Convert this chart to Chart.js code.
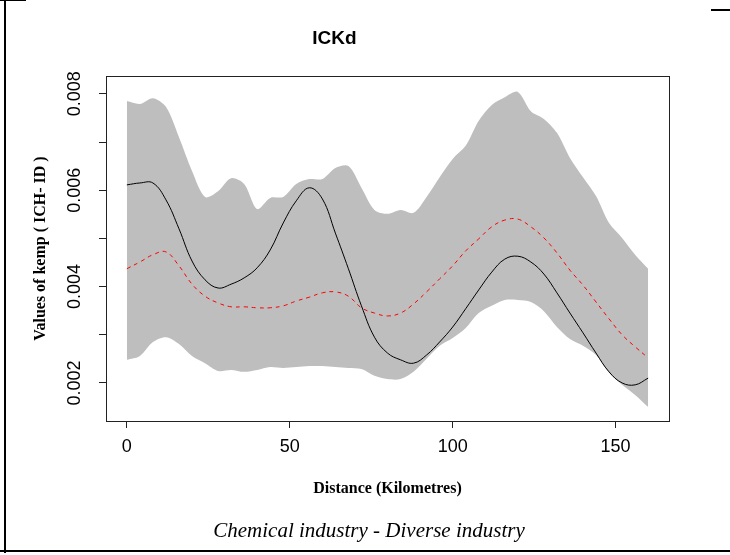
<!DOCTYPE html>
<html>
<head>
<meta charset="utf-8">
<script src="https://cdn.jsdelivr.net/npm/chart.js@4.4.1/dist/chart.umd.min.js"></script>
<style>
  html, body { margin: 0; padding: 0; background: #fff; }
  #wrap { position: relative; width: 730px; height: 555px; overflow: hidden; }
  #kempChart { position: absolute; left: 0; top: 0; }
  .frame { position: absolute; background: #000; }
  #caption {
    position: absolute; left: 0; width: 738px; top: 518px;
    text-align: center; font: italic 21px "Liberation Serif", serif; color: #000;
  }
</style>
</head>
<body>
<div id="wrap">
  <canvas id="kempChart" width="730" height="555"></canvas>
  <div class="frame" style="left:4px; top:0; width:2px; height:553px;"></div>
  <div class="frame" style="left:0; top:0; width:26px; height:1px;"></div>
  <div class="frame" style="left:711px; top:9px; width:19px; height:2px;"></div>
  <div class="frame" style="left:0; top:550px; width:730px; height:2px;"></div>
  <div id="caption">Chemical industry - Diverse industry</div>
</div>
<script>
// distance along the corridor (km)
const distance = [0, 4, 8, 12, 16, 20, 24, 28, 32, 36, 40, 44, 48, 52, 56, 60, 64, 68, 72, 76,
    80, 84, 88, 92, 96, 100, 104, 108, 112, 116, 120, 124, 128, 132, 136, 140, 144, 148, 152,
    156, 160];

// upper and lower envelope
const upperBand = [0.00785, 0.00779, 0.00791, 0.00773, 0.0071, 0.0064, 0.00586, 0.00598, 0.00625,
    0.00613, 0.00561, 0.00584, 0.00586, 0.00613, 0.00623, 0.00623, 0.00646, 0.0065, 0.00605, 0.00559,
    0.00551, 0.00559, 0.00553, 0.00586, 0.00627, 0.00665, 0.00692, 0.00744, 0.00777, 0.00793, 0.00804,
    0.00764, 0.00748, 0.00719, 0.00667, 0.00627, 0.00588, 0.00532, 0.00501, 0.00466, 0.00437];
const lowerBand = [0.00248, 0.00256, 0.00285, 0.00295, 0.00281, 0.00256, 0.00241, 0.00225, 0.00227,
    0.00223, 0.00227, 0.00233, 0.00231, 0.00233, 0.00235, 0.00235, 0.00233, 0.00231, 0.00229, 0.00215,
    0.00208, 0.00208, 0.00223, 0.0025, 0.00277, 0.00293, 0.00314, 0.00345, 0.0036, 0.00372, 0.00372,
    0.00368, 0.00349, 0.00316, 0.00291, 0.00277, 0.00258, 0.00221, 0.00196, 0.00175, 0.0015];

// observed kemp (solid) and expected (red dashed)
const kempObserved = [0.00611, 0.00615, 0.00615, 0.0058, 0.0052, 0.00453, 0.00414, 0.00397, 0.00405,
    0.00418, 0.00439, 0.00476, 0.00532, 0.00578, 0.00605, 0.00582, 0.00511, 0.00437, 0.0036, 0.00295,
    0.00262, 0.00248, 0.00241, 0.00258, 0.00285, 0.00316, 0.00354, 0.00393, 0.0043, 0.00457, 0.00463,
    0.00451, 0.00426, 0.00387, 0.00345, 0.00304, 0.00262, 0.00223, 0.002, 0.00196, 0.0021];
const kempExpected = [0.00437, 0.00451, 0.00466, 0.00472, 0.00443, 0.00405, 0.0038, 0.00366, 0.00358,
    0.00358, 0.00356, 0.00356, 0.0036, 0.0037, 0.00378, 0.00387, 0.00389, 0.0038, 0.00356, 0.00345,
    0.00339, 0.00345, 0.00364, 0.00389, 0.00416, 0.00443, 0.00474, 0.00499, 0.00524, 0.00538, 0.0054,
    0.00524, 0.00501, 0.0047, 0.00434, 0.00403, 0.00368, 0.00333, 0.003, 0.00275, 0.00252];

const xTicks = [0, 50, 100, 150];
const yTicks = [0.002, 0.003, 0.004, 0.005, 0.006, 0.007, 0.008];
const yLabelled = [0.002, 0.004, 0.006, 0.008];

const pts = arr => arr.map((v, i) => ({ x: distance[i], y: v }));

// R style box round the plot region
const boxPlugin = {
    id: 'box',
    afterDatasetsDraw(chart) {
        const a = chart.chartArea, ctx = chart.ctx;
        ctx.save();
        ctx.strokeStyle = '#222';
        ctx.lineWidth = 1;
        ctx.strokeRect(Math.round(a.left) + 0.5, Math.round(a.top) + 0.5,
            Math.round(a.right - a.left), Math.round(a.bottom - a.top));
        ctx.restore();
    }
};

new Chart(document.getElementById('kempChart'), {
    type: 'line',
    data: {
        datasets: [
            { data: pts(upperBand), order: 1, borderWidth: 0, pointRadius: 0, backgroundColor: '#bebebe', fill: '+1', tension: 0.3 },
            { data: pts(lowerBand), order: 1, borderWidth: 0, pointRadius: 0, fill: false, tension: 0.3 },
            { data: pts(kempObserved), order: 0, borderColor: '#000', borderWidth: 1, pointRadius: 0, fill: false, tension: 0.4 },
            { data: pts(kempExpected), order: 0, borderColor: '#ff0000', borderWidth: 1, borderDash: [4, 4], pointRadius: 0, fill: false, tension: 0.4 }
        ]
    },
    options: {
        responsive: false,
        animation: false,
        events: [],
        layout: { padding: { left: 0, right: 61, top: 0, bottom: 0 } },
        plugins: {
            legend: { display: false },
            tooltip: { enabled: false },
            title: {
                display: true,
                text: 'ICKd',
                color: '#000',
                font: { family: 'Liberation Sans', size: 19, weight: 'bold', lineHeight: 1.2 },
                padding: { top: 27, bottom: 26.2 }
            }
        },
        scales: {
            x: {
                type: 'linear',
                min: -6.4,
                max: 166.4,
                afterBuildTicks: s => { s.ticks = xTicks.map(v => ({ value: v })); },
                afterFit: s => { s.height = 134; },
                grid: { drawOnChartArea: false, drawTicks: true, tickLength: 7, color: '#222' },
                border: { display: true, color: '#222' },
                ticks: { color: '#000', padding: 8, maxRotation: 0, font: { family: 'Liberation Sans', size: 18 } },
                title: {
                    display: true,
                    text: 'Distance (Kilometres)',
                    color: '#000',
                    font: { family: 'Liberation Serif', size: 16, weight: 'bold', lineHeight: 1.2 },
                    padding: { top: 0, bottom: 56.4 }
                }
            },
            y: {
                min: 0.00121,
                max: 0.00837,
                afterBuildTicks: s => { s.ticks = yTicks.map(v => ({ value: v })); },
                afterFit: s => { s.width = 106; },
                grid: { drawOnChartArea: false, drawTicks: true, tickLength: 7, color: '#222' },
                border: { display: true, color: '#222' },
                ticks: {
                    color: '#000',
                    padding: 1.5,
                    minRotation: 90,
                    maxRotation: 90,
                    crossAlign: 'center',
                    font: { family: 'Liberation Sans', size: 18 },
                    callback: v => yLabelled.some(t => Math.abs(t - v) < 1e-9) ? v.toFixed(3) : ''
                },
                title: {
                    display: true,
                    text: 'Values of kemp ( ICH- ID )',
                    color: '#000',
                    font: { family: 'Liberation Serif', size: 16, weight: 'bold', lineHeight: 1.2 },
                    padding: { top: 31.4, bottom: 0 }
                }
            }
        }
    },
    plugins: [boxPlugin]
});
</script>
</body>
</html>
